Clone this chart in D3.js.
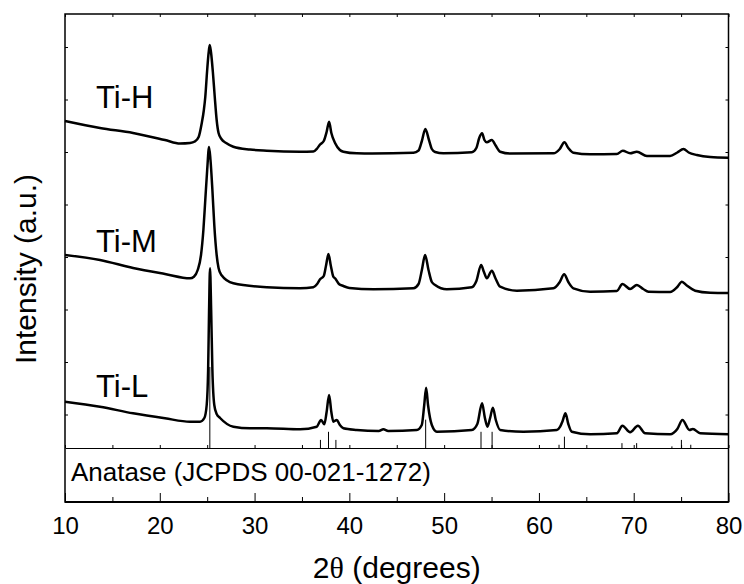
<!DOCTYPE html>
<html>
<head>
<meta charset="utf-8">
<script src="https://cdn.jsdelivr.net/npm/d3@7/dist/d3.min.js"></script>
<style>
    body { margin: 0; background: #fff; }
    svg text { font-family: "Liberation Sans", Arial, sans-serif; fill: #000; }
</style>
</head>
<body>
<div id="chart-area"></div>
<script>
// ---- data: [2theta (deg), intensity (a.u.)] ----
var tiH = [
    [10.0, 327], [13.69, 320], [17.18, 315], [20.55, 308], [22.14, 304.5], [23.19, 305],
    [23.7, 306.5], [24.1, 311], [24.43, 325], [24.65, 338], [24.8, 351], [25.0, 378],
    [25.15, 395], [25.27, 403], [25.4, 396], [25.6, 376], [25.8, 351], [26.0, 328],
    [26.2, 315], [26.5, 309], [27.0, 305], [27.76, 301.3], [29.52, 298.5], [31.29, 297.3],
    [34.8, 296.3], [36.2, 296.5], [36.6, 299.5], [36.91, 303.5], [37.3, 307], [37.6, 316],
    [37.86, 326.3], [38.1, 315], [38.49, 305], [39.0, 298], [39.37, 296.3], [40.78, 294.7],
    [42.4, 294.5], [46.76, 295.3], [47.3, 297.5], [47.65, 307], [48.02, 319], [48.4, 308],
    [48.7, 299], [49.05, 296], [49.92, 294.7], [52.92, 295.7], [53.4, 300], [53.7, 310],
    [54.0, 314.7], [54.25, 308], [54.5, 305.7], [55.03, 308], [55.4, 303], [55.91, 296.3],
    [56.96, 294.5], [61.53, 294.7], [62.2, 299], [62.69, 305.7], [63.1, 300], [63.64, 295.3],
    [65.4, 293.7], [68.22, 294], [68.85, 297.3], [69.62, 294.7], [70.33, 296.3], [71.39, 292],
    [73.84, 292], [74.6, 295.5], [75.25, 299], [75.8, 295.5], [76.66, 293], [78.07, 291],
    [80.0, 290.3]
];

var tiM = [
    [10.0, 193], [13.69, 188], [17.18, 180], [20.55, 174], [23.19, 169.7], [23.6, 171.3],
    [24.0, 178], [24.35, 193], [24.6, 218], [24.8, 248], [25.0, 278], [25.2, 301],
    [25.35, 288], [25.55, 258], [25.75, 223], [26.0, 193], [26.2, 180], [26.5, 173],
    [27.76, 164.7], [31.29, 160.7], [34.8, 159.7], [36.2, 160.7], [36.6, 164], [36.91, 168.7],
    [37.3, 172], [37.55, 183], [37.79, 194], [38.05, 182], [38.3, 171.5], [38.49, 169.7],
    [38.9, 164], [39.37, 162], [40.0, 160], [42.54, 158.7], [46.76, 159.7], [47.3, 164],
    [47.65, 178], [47.99, 193], [48.35, 178], [48.7, 166], [49.05, 163], [50.28, 158.7],
    [52.92, 160.7], [53.4, 167], [53.9, 183], [54.2, 176], [54.5, 169.7], [55.03, 177.3],
    [55.4, 170], [55.91, 161.3], [57.67, 157.3], [61.53, 159.7], [62.2, 166], [62.66, 173.7],
    [63.1, 166], [63.64, 159.7], [65.4, 156.3], [68.22, 157], [68.81, 164], [69.62, 159],
    [70.33, 163], [71.0, 159], [71.56, 156.3], [73.84, 156], [74.6, 161], [75.08, 166.3],
    [75.6, 162.5], [76.48, 157.3], [78.07, 155.3], [80.0, 155]
];

var tiL = [
    [10.0, 46.3], [13.69, 41.3], [17.18, 34.7], [20.55, 29.7], [23.19, 26.3], [24.25, 26.3],
    [24.7, 30], [24.95, 43], [25.1, 78], [25.2, 138], [25.3, 179.7], [25.42, 138],
    [25.55, 78], [25.75, 43], [26.0, 34], [26.36, 30], [27.76, 21.3], [29.52, 19.7],
    [31.29, 19.7], [34.8, 18.7], [36.56, 21.3], [37.02, 28], [37.36, 23.7], [37.6, 36],
    [37.86, 53], [38.1, 36], [38.31, 26.3], [38.67, 28], [39.0, 23], [39.37, 19.7],
    [40.78, 18], [43.1, 17], [43.59, 18.7], [44.1, 17], [47.11, 18], [47.64, 23],
    [47.9, 43], [48.1, 60.3], [48.3, 43], [48.7, 23], [49.23, 16.3], [52.92, 18],
    [53.5, 24], [54.0, 44.7], [54.3, 30], [54.57, 21.3], [54.85, 30], [55.14, 40.3],
    [55.45, 28], [55.91, 18], [58.36, 16.3], [61.89, 18], [62.24, 21.3], [62.5, 27],
    [62.8, 34.7], [63.1, 24], [63.47, 16.3], [65.4, 13.7], [68.22, 14.7], [68.81, 22.3],
    [69.62, 15.7], [70.44, 22.3], [71.21, 14.7], [73.84, 13.7], [74.6, 19], [75.14, 28],
    [75.88, 18], [76.24, 19], [77.01, 14.7], [80.0, 13.7]
];

// anatase reference pattern (JCPDS 00-021-1272): position and relative intensity (%)
var refTheta = [25.28, 36.95, 37.80, 38.58, 48.05, 53.89, 55.06, 62.12, 62.69, 68.76, 70.31, 74.03, 75.03, 76.02];
var refInt = [100, 10, 20, 10, 35, 20, 20, 4, 14, 6, 6, 2, 10, 4];

var seriesNames = ["Ti-H", "Ti-M", "Ti-L"];
var xMajorTicks = [10, 20, 30, 40, 50, 60, 70, 80];
var xMinorTicks = [15, 25, 35, 45, 55, 65, 75];
var xAllTicks = [10, 15, 20, 25, 30, 35, 40, 45, 50, 55, 60, 65, 70, 75, 80];
var yTicks = [33.5, 86, 138.5, 191, 243.5, 296, 348.5, 401];

// ---- layout ----  (note: "top" clashes with window.top, so use plot* names)
var plotLeft = 65, plotRight = 728.5, plotTop = 14, plotSplit = 448, plotBottom = 502;

var svg = d3.select("#chart-area").append("svg")
    .attr("width", 744)
    .attr("height", 584);

var x = d3.scaleLinear().domain([10, 80]).range([plotLeft, plotRight]);
var y = d3.scaleLinear().domain([0, 434]).range([plotSplit, plotTop]);
var yRef = d3.scaleLinear().domain([0, 100]).range([plotSplit, plotSplit - 81]);

// reference sticks
svg.selectAll(".stick")
    .data(refTheta)
    .enter()
    .append("line")
    .attr("class", "stick")
    .attr("x1", d => x(d))
    .attr("x2", d => x(d))
    .attr("y1", yRef(0))
    .attr("y2", (d, i) => yRef(refInt[i]))
    .attr("stroke", "#000")
    .attr("stroke-width", 1);

// patterns
var line = d3.line()
    .x(d => x(d[0]))
    .y(d => y(d[1]))
    .curve(d3.curveMonotoneX);

svg.selectAll(".pattern")
    .data([tiH, tiM, tiL])
    .enter()
    .append("path")
    .attr("class", "pattern")
    .attr("d", line)
    .attr("fill", "none")
    .attr("stroke", "#000")
    .attr("stroke-width", 2.5)
    .attr("stroke-linejoin", "round");

// series labels
var labelY = [108, 252, 397];
svg.selectAll(".series-label")
    .data(seriesNames)
    .enter()
    .append("text")
    .attr("class", "series-label")
    .attr("x", 96)
    .attr("y", (d, i) => labelY[i])
    .attr("font-size", "31px")
    .text(d => d);

// ---- axes (all ticks point inward) ----
svg.append("g")
    .attr("transform", "translate(0," + plotBottom + ")")
    .call(d3.axisBottom(x).tickValues(xMajorTicks).tickSize(-9).tickPadding(15).tickSizeOuter(0))
    .call(g => g.select(".domain").remove())
    .call(g => g.selectAll("text").attr("font-size", "24px").attr("font-family", "Liberation Sans, Arial, sans-serif"));

svg.append("g")
    .attr("transform", "translate(0," + plotBottom + ")")
    .call(d3.axisBottom(x).tickValues(xMinorTicks).tickSize(-5).tickFormat("").tickSizeOuter(0))
    .call(g => g.select(".domain").remove());

svg.append("g")
    .attr("transform", "translate(0," + plotSplit + ")")
    .call(d3.axisBottom(x).tickValues(xAllTicks).tickSize(-3).tickFormat("").tickSizeOuter(0))
    .call(g => g.select(".domain").attr("stroke-width", 1));

svg.append("g")
    .attr("transform", "translate(0," + plotTop + ")")
    .call(d3.axisTop(x).tickValues(xAllTicks).tickSize(-3).tickFormat("").tickSizeOuter(0))
    .call(g => g.select(".domain").remove());

svg.append("g")
    .attr("transform", "translate(" + plotLeft + ",0)")
    .call(d3.axisLeft(y).tickValues(yTicks).tickSize(-3).tickFormat("").tickSizeOuter(0))
    .call(g => g.select(".domain").remove());

svg.append("g")
    .attr("transform", "translate(" + plotRight + ",0)")
    .call(d3.axisRight(y).tickValues(yTicks).tickSize(-3).tickFormat("").tickSizeOuter(0))
    .call(g => g.select(".domain").remove());

// frame
svg.append("rect")
    .attr("x", plotLeft)
    .attr("y", plotTop)
    .attr("width", plotRight - plotLeft)
    .attr("height", plotBottom - plotTop)
    .attr("fill", "none")
    .attr("stroke", "#000")
    .attr("stroke-width", 1.5);

svg.append("line")
    .attr("x1", plotLeft).attr("x2", plotRight)
    .attr("y1", plotBottom).attr("y2", plotBottom)
    .attr("stroke", "#000")
    .attr("stroke-width", 2.2);

// reference label
svg.append("text")
    .attr("x", 71)
    .attr("y", 481)
    .attr("font-size", "26px")
    .text("Anatase (JCPDS 00-021-1272)");

// X Label
var xLabel = svg.append("text")
    .attr("x", (plotLeft + plotRight) / 2)
    .attr("y", 578)
    .attr("font-size", "30px")
    .attr("text-anchor", "middle");
xLabel.append("tspan").text("2");
xLabel.append("tspan").attr("font-family", "Liberation Serif, Times New Roman, serif").text("\u03b8");
xLabel.append("tspan").text(" (degrees)");

// Y Label
svg.append("text")
    .attr("x", -269)
    .attr("y", 36)
    .attr("font-size", "30px")
    .attr("text-anchor", "middle")
    .attr("transform", "rotate(-90)")
    .text("Intensity (a.u.)");
</script>
</body>
</html>
